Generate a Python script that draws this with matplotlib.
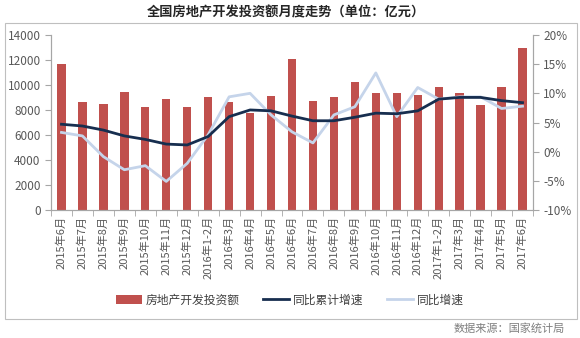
import matplotlib.pyplot as plt
from matplotlib.patches import Rectangle

plt.rcParams['font.family'] = ['Noto Sans CJK SC', 'DejaVu Sans']

# Categories (months)
months = ["2015年6月", "2015年7月", "2015年8月", "2015年9月", "2015年10月",
          "2015年11月", "2015年12月", "2016年1-2月", "2016年3月", "2016年4月",
          "2016年5月", "2016年6月", "2016年7月", "2016年8月", "2016年9月",
          "2016年10月", "2016年11月", "2016年12月", "2017年1-2月", "2017年3月",
          "2017年4月", "2017年5月", "2017年6月"]

# Monthly investment (亿元)
investment = [11700, 8600, 8480, 9470, 8270, 8850, 8260, 9010, 8610, 7730,
              9150, 12050, 8720, 9010, 10240, 9390, 9390, 9170, 9840, 9390,
              8400, 9840, 12980]

# Cumulative YoY growth (%)
cum_growth = [4.7, 4.4, 3.7, 2.7, 2.1, 1.3, 1.15, 2.6, 6.0, 7.15,
              7.0, 6.1, 5.3, 5.3, 5.9, 6.6, 6.5, 7.0, 9.0, 9.3,
              9.3, 8.75, 8.4]

# Monthly YoY growth (%)
yoy_growth = [3.3, 2.7, -0.85, -3.1, -2.4, -5.1, -2.0, 2.9, 9.4, 10.0,
              6.3, 3.4, 1.5, 6.3, 7.7, 13.5, 6.0, 11.0, 9.0, 9.4,
              9.4, 7.4, 7.8]

bar_color = "#C0504D"
navy = "#172E4F"
light = "#C5D4EA"
gray = "#595959"
spine_gray = "#A6A6A6"

fig = plt.figure(figsize=(5.8, 3.38), dpi=100)

# outer border
fig.patches.append(Rectangle((5 / 580, 1 - 319 / 338), 572 / 580, 296 / 338,
                             transform=fig.transFigure, fill=False,
                             edgecolor="#BFBFBF", linewidth=0.8))

ax = fig.add_axes([51 / 580, 1 - 210 / 338, 482 / 580, 175 / 338])
x = range(len(months))
ax.bar(x, investment, width=0.4, color=bar_color, label="房地产开发投资额", zorder=2)
ax.set_xlim(-0.5, len(months) - 0.5)
ax.set_ylim(0, 14000)
ax.set_yticks(range(0, 14001, 2000))
ax.set_xticks(list(x))
ax.set_xticklabels(months, rotation=90, fontsize=8, color=gray)
ax.tick_params(axis="x", length=0, pad=4)
ax.set_xticks([i - 0.5 for i in range(len(months) + 1)], minor=True)
ax.tick_params(axis="x", which="minor", length=4, color=spine_gray)
ax.tick_params(axis="y", labelsize=8.5, labelcolor=gray, color=spine_gray, length=4)
for s in ["top"]:
    ax.spines[s].set_visible(False)
for s in ["left", "bottom", "right"]:
    ax.spines[s].set_color(spine_gray)

ax2 = ax.twinx()
ax2.plot(x, yoy_growth, color=light, linewidth=2, label="同比增速", zorder=3)
ax2.plot(x, cum_growth, color=navy, linewidth=2, label="同比累计增速", zorder=4)
ax2.set_ylim(-10, 20)
ax2.set_yticks(range(-10, 21, 5))
ax2.set_yticklabels([f"{v}%" for v in range(-10, 21, 5)])
ax2.tick_params(axis="y", labelsize=8.5, labelcolor=gray, color=spine_gray, length=4)
ax2.spines["top"].set_visible(False)
for s in ["left", "bottom", "right"]:
    ax2.spines[s].set_color(spine_gray)

fig.text(0.493, 1 - 12 / 338, "全国房地产开发投资额月度走势（单位：亿元）",
         ha="center", va="center", fontsize=9.5, fontweight="bold", color="#262626")

h1, l1 = ax.get_legend_handles_labels()
h2, l2 = ax2.get_legend_handles_labels()
handles = h1 + [h2[1], h2[0]]
labels = l1 + [l2[1], l2[0]]
fig.legend(handles, labels, loc="center", bbox_to_anchor=(290 / 580, 1 - 300 / 338),
           ncol=3, frameon=False, fontsize=8.5, labelcolor="#404040",
           handlelength=2.2, handletextpad=0.3, columnspacing=2.0)

fig.text(565 / 580, 1 - 328 / 338, "数据来源：国家统计局", ha="right", va="center",
         fontsize=8, color="#7F7F7F")

fig.savefig("out.png", dpi=100)
